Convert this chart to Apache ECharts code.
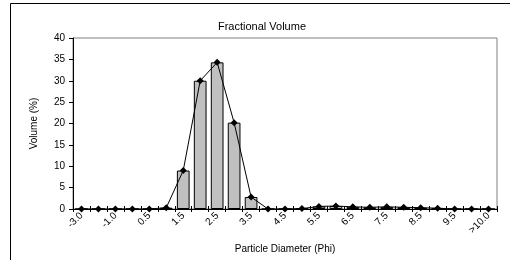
<!DOCTYPE html>
<html><head><meta charset="utf-8">
<script src="https://cdn.jsdelivr.net/npm/echarts@6/dist/echarts.min.js"></script>
<style>html,body{margin:0;padding:0;background:#fff}#c{width:510px;height:260px}</style>
</head><body><div id="c"></div>
<script>
const categories = ['-3.0','-2.0','-1.0','0.0','0.5','1.0','1.5','2.0','2.5','3.0','3.5','4.0','4.5','5.0','5.5','6.0','6.5','7.0','7.5','8.0','8.5','9.0','9.5','10.0','>10.0'];
const volume = [0,0,0,0,0,0.3,9,30,34.3,20.2,2.8,0,0,0.1,0.6,0.7,0.5,0.4,0.5,0.4,0.3,0.2,0,0,0];
const yTicks = {min:0, max:40, interval:5};

const chart = echarts.init(document.getElementById('c'), null, {renderer:'canvas'});
const font = 'Liberation Sans, Arial, sans-serif';
chart.setOption({
  animation:false,
  backgroundColor:'#fff',
  title:{text:'Fractional Volume', left:257, top:16, textAlign:'center',
    textStyle:{fontFamily:font, fontSize:11, fontWeight:'normal', color:'#000'}},
  graphic:[{type:'rect', shape:{x:10.5,y:3.5,width:520,height:280}, style:{fill:null, stroke:'#000', lineWidth:1}, z:-1}],
  grid:{left:73, right:13, top:38, bottom:51, show:true, borderColor:'#808080', borderWidth:1, backgroundColor:'#fff'},
  xAxis:[{
    type:'category', data:categories, boundaryGap:true,
    name:'Particle Diameter (Phi)', nameLocation:'middle', nameGap:35,
    nameTextStyle:{fontFamily:font, fontSize:10, color:'#000'},
    axisLine:{lineStyle:{color:'#000', width:1}},
    axisTick:{show:true, interval:0, length:3, lineStyle:{color:'#000'}},
    axisLabel:{interval:1, rotate:45, fontFamily:font, fontSize:10, color:'#000', margin:5},
    splitLine:{show:false}
  },{
    type:'category', data:categories, position:'bottom', gridIndex:0,
    axisLine:{show:false},
    axisTick:{show:true, inside:true, interval:0, length:3, lineStyle:{color:'#000'}},
    axisLabel:{show:false}, splitLine:{show:false}
  }],
  yAxis:{
    type:'value', min:yTicks.min, max:yTicks.max, interval:yTicks.interval,
    name:'Volume (%)', nameLocation:'middle', nameGap:34, nameRotate:90,
    nameTextStyle:{fontFamily:font, fontSize:10, color:'#000'},
    axisLine:{show:true, lineStyle:{color:'#000', width:1}},
    axisTick:{show:true, length:4, lineStyle:{color:'#000'}},
    axisLabel:{fontFamily:font, fontSize:10, color:'#000', margin:8},
    splitLine:{show:false}
  },
  series:[{
    type:'bar', data:volume, barCategoryGap:'25%',
    itemStyle:{color:'#c0c0c0', borderColor:'#000', borderWidth:1}
  },{
    type:'line', data:volume, symbol:'diamond', symbolSize:7,
    lineStyle:{color:'#000', width:1}, itemStyle:{color:'#000'}, z:5
  }]
});
</script></body></html>
